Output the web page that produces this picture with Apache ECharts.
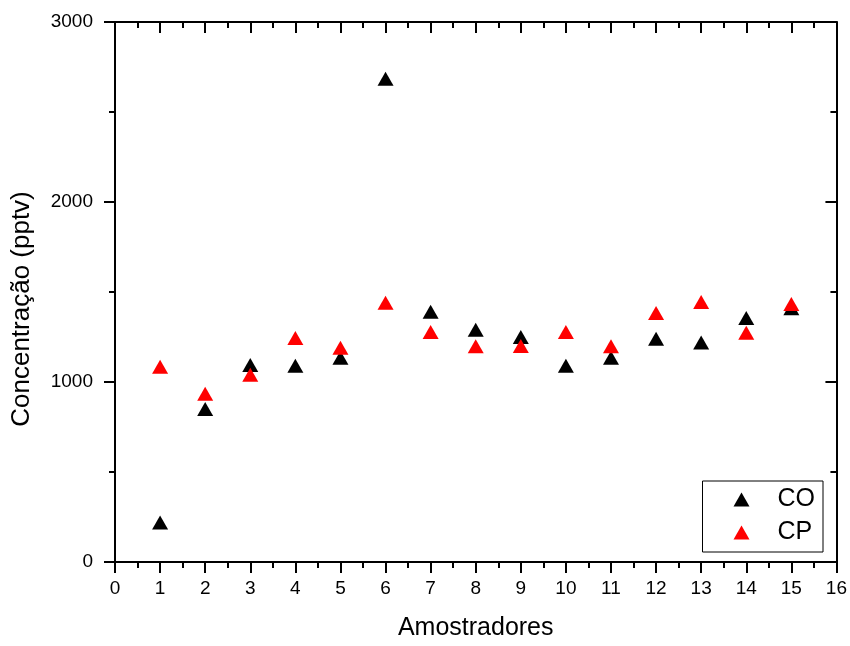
<!DOCTYPE html>
<html>
<head>
<meta charset="utf-8">
<script src="https://cdn.jsdelivr.net/npm/echarts@6/dist/echarts.min.js"></script>
<style>
  html, body { margin: 0; padding: 0; background: #fff; }
  #chart { width: 850px; height: 646px; }
</style>
</head>
<body>
<div id="chart"></div>
<script>
// amostradores 1..15
const amostradores = [1, 2, 3, 4, 5, 6, 7, 8, 9, 10, 11, 12, 13, 14, 15]
// concentração (pptv)
const valoresCO = [220, 850, 1095, 1090, 1135, 2685, 1390, 1290, 1250, 1090, 1135, 1240, 1220, 1355, 1410]
const valoresCP = [1085, 935, 1040, 1245, 1190, 1440, 1278, 1198, 1200, 1278, 1198, 1383, 1444, 1273, 1433]

const font = 'Liberation Sans, Arial, sans-serif'

let mychart = echarts.init(document.getElementById('chart'))

// eixo comum (linha preta, ticks maiores e menores)
function eixo(extra) {
    return Object.assign({
        type: 'value',
        axisLine: { show: true, onZero: false, lineStyle: { color: '#000', width: 2 } },
        axisTick: { show: true, inside: false, length: 11, lineStyle: { color: '#000', width: 2 } },
        minorTick: { show: true, splitNumber: 2, length: 6, lineStyle: { color: '#000', width: 2 } },
        splitLine: { show: false },
        axisLabel: { show: false }
    }, extra)
}

const ticksDentro = {
    axisTick: { show: true, inside: true, length: 11, lineStyle: { color: '#000', width: 2 } },
    minorTick: { show: true, splitNumber: 2, length: 6, lineStyle: { color: '#000', width: 2 } }
}

mychart.setOption({
    animation: false,
    grid: { left: 115, right: 12, top: 22, bottom: 82, containLabel: false },
    xAxis: [
        eixo({
            min: 0, max: 16, interval: 1, position: 'bottom',
            name: 'Amostradores', nameLocation: 'middle', nameGap: 54,
            nameTextStyle: { fontFamily: font, fontSize: 25, color: '#000' },
            axisLabel: { show: true, margin: 17, fontFamily: font, fontSize: 19, color: '#000' }
        }),
        eixo(Object.assign({ min: 0, max: 16, interval: 1, position: 'top' }, ticksDentro))
    ],
    yAxis: [
        eixo({
            min: 0, max: 3000, interval: 1000, position: 'left',
            name: 'Concentração (pptv)', nameLocation: 'middle', nameGap: 80,
            nameTextStyle: { fontFamily: font, fontSize: 26, color: '#000', padding: [0, 34, 0, 0] },
            axisLabel: {
                show: true, margin: 22, fontFamily: font, fontSize: 19, color: '#000',
                formatter: v => String(v)
            }
        }),
        eixo(Object.assign({ min: 0, max: 3000, interval: 1000, position: 'right' }, ticksDentro))
    ],
    legend: {
        orient: 'vertical',
        right: 27,
        top: 481,
        padding: [6, 8, 7, 31],
        itemGap: 8,
        itemWidth: 16,
        itemHeight: 14,
        borderColor: '#000',
        borderWidth: 1,
        borderRadius: 0,
        textStyle: { fontFamily: font, fontSize: 25, color: '#000', padding: [0, 0, 0, 23] },
        data: ['CO', 'CP']
    },
    series: [
        {
            name: 'CO',
            type: 'scatter',
            symbol: 'triangle',
            symbolSize: [16, 14],
            itemStyle: { color: '#000', opacity: 1 },
            data: amostradores.map((a, i) => [a, valoresCO[i]])
        },
        {
            name: 'CP',
            type: 'scatter',
            symbol: 'triangle',
            symbolSize: [16, 14],
            itemStyle: { color: '#ff0000', opacity: 1 },
            data: amostradores.map((a, i) => [a, valoresCP[i]])
        }
    ]
})
</script>
</body>
</html>
